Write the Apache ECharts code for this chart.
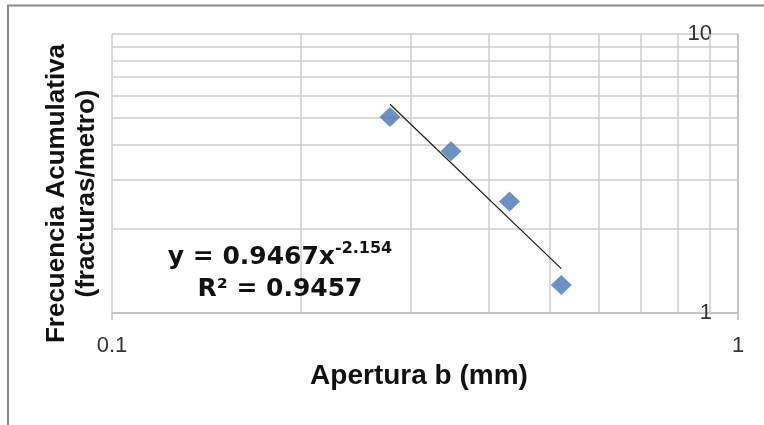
<!DOCTYPE html>
<html>
 <head>
  <meta charset="utf-8" />
  <title>Frecuencia acumulativa vs apertura</title>
  <script type="text/javascript" src="https://cdn.jsdelivr.net/npm/echarts@6/dist/echarts.min.js"></script>
  <style type="text/css">
html, body {
	width: 100%;
	height: 100%;
	margin: 0;
	background: #fff;
}

#main {
	width: 764px;
	height: 425px;
}
</style>
 </head>
 <body>
  <div id="main"></div>

<script type="text/javascript">
// datos
var apertura = [0.278, 0.348, 0.4315, 0.522];   // mm
var frecuencia = [5.04, 3.80, 2.51, 1.26];      // fracturas/metro
var xTicks = [0.1, 1];
var yTicks = [1, 10];
var xMinor = [0.2, 0.3, 0.4, 0.5, 0.6, 0.7, 0.8, 0.9];
var yMinor = [2, 3, 4, 5, 6, 7, 8, 9];
var ecuacion = 'y = 0.9467x';
var exponente = '-2.154';
var r2 = 'R² = 0.9457';

// linea de tendencia potencial (minimos cuadrados en log-log)
function ajustePotencia(xs, ys) {
    var lx = xs.map(Math.log10), ly = ys.map(Math.log10);
    var n = lx.length, mx = 0, my = 0;
    for (var i = 0; i < n; i++) { mx += lx[i] / n; my += ly[i] / n; }
    var sxy = 0, sxx = 0;
    for (var j = 0; j < n; j++) {
        sxy += (lx[j] - mx) * (ly[j] - my);
        sxx += (lx[j] - mx) * (lx[j] - mx);
    }
    var b = sxy / sxx, a = my - b * mx;
    return function (x) { return Math.pow(10, a + b * Math.log10(x)); };
}
var f = ajustePotencia(apertura, frecuencia);
var xIni = Math.min.apply(null, apertura), xFin = Math.max.apply(null, apertura);
var tendencia = [[xIni, f(xIni)], [xFin, f(xFin)]];

var gridColor = '#cdcdcd';
var chart = echarts.init(document.getElementById('main'));

var option = {
    animation: false,
    grid: {
        left: 112,
        right: 26,
        top: 34,
        bottom: 112
    },
    xAxis: {
        type: 'log',
        logBase: 10,
        min: xTicks[0],
        max: xTicks[1],
        name: 'Apertura b (mm)',
        nameLocation: 'middle',
        nameGap: 45,
        nameTextStyle: {
            fontFamily: 'Liberation Sans',
            fontWeight: 'bold',
            fontSize: 28,
            color: '#111',
            padding: [0, 12, 0, 0]
        },
        axisLine: { lineStyle: { color: '#bdbdbd', width: 1.5 } },
        axisTick: { show: true, length: 7, lineStyle: { color: '#bdbdbd', width: 1.5 } },
        axisLabel: {
            fontFamily: 'Liberation Sans',
            fontSize: 22,
            color: '#333',
            margin: 22,
            formatter: function (v) { return String(v); }
        },
        splitLine: { show: true, lineStyle: { color: gridColor, width: 1.5 } }
    },
    yAxis: [{
        type: 'log',
        logBase: 10,
        min: yTicks[0],
        max: yTicks[1],
        position: 'right',
        axisLine: { show: true, lineStyle: { color: '#bdbdbd', width: 1.5 } },
        axisTick: { show: false },
        axisLabel: {
            inside: true,
            margin: 26,
            fontFamily: 'Liberation Sans',
            fontSize: 22,
            color: '#333'
        },
        splitLine: { show: true, lineStyle: { color: gridColor, width: 1.5 } }
    }, {
        type: 'log',
        logBase: 10,
        min: yTicks[0],
        max: yTicks[1],
        position: 'left',
        name: 'Frecuencia Acumulativa\n(fracturas/metro)',
        nameLocation: 'middle',
        nameRotate: 90,
        nameGap: 10,
        nameTextStyle: {
            fontFamily: 'Liberation Sans',
            fontWeight: 'bold',
            fontSize: 26,
            lineHeight: 30,
            color: '#111',
            padding: [0, 40, 0, 0]
        },
        axisLine: { show: false },
        axisTick: { show: false },
        axisLabel: { show: false },
        splitLine: { show: false }
    }],
    graphic: [{
        type: 'rect',
        silent: true,
        z: -10,
        shape: { x: 8, y: 5.5, width: 800, height: 500 },
        style: { fill: 'none', stroke: '#8a8a8a', lineWidth: 2 }
    }, {
        type: 'text',
        x: 280,
        y: 273,
        z: 10,
        style: {
            text: '{b|' + ecuacion + '}{s|' + exponente + '}\n{b|' + r2 + '}',
            align: 'center',
            verticalAlign: 'middle',
            rich: {
                b: {
                    fontFamily: 'DejaVu Sans',
                    fontWeight: 'bold',
                    fontSize: 25,
                    lineHeight: 32,
                    fill: '#111'
                },
                s: {
                    fontFamily: 'DejaVu Sans',
                    fontWeight: 'bold',
                    fontSize: 16,
                    lineHeight: 16,
                    verticalAlign: 'top',
                    fill: '#111'
                }
            }
        }
    }],
    series: [{
        name: 'Frecuencia',
        type: 'scatter',
        yAxisIndex: 0,
        data: apertura.map(function (x, i) { return [x, frecuencia[i]]; }),
        symbol: 'diamond',
        symbolSize: [21, 20],
        itemStyle: { color: '#4677b8' },
        z: 4,
        markLine: {
            silent: true,
            z: 1,
            symbol: 'none',
            label: { show: false },
            lineStyle: { type: 'solid', color: gridColor, width: 1.5 },
            data: xMinor.map(function (v) { return { xAxis: v }; })
                .concat(yMinor.map(function (v) { return { yAxis: v }; }))
        }
    }, {
        name: 'Tendencia',
        type: 'line',
        yAxisIndex: 0,
        data: tendencia,
        symbol: 'none',
        z: 3,
        lineStyle: { color: '#1a1a1a', width: 1.2 }
    }]
};

chart.setOption(option);
</script>
 </body>
</html>
